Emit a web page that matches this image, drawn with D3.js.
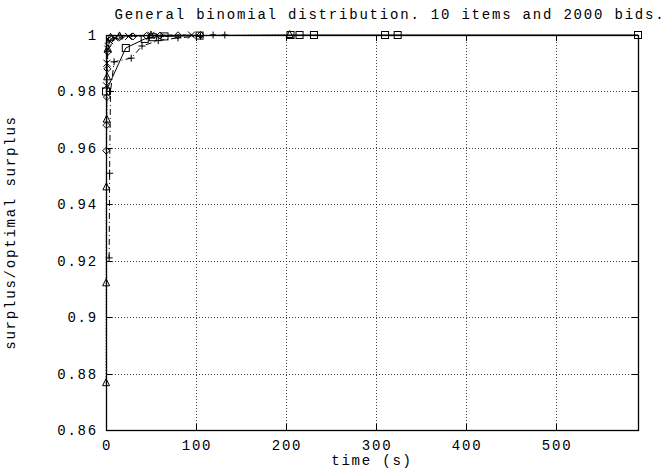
<!DOCTYPE html>
<html lang="en">
<head>
    <meta charset="UTF-8">
    <title>General binomial distribution</title>
    <script src="https://d3js.org/d3.v7.min.js"></script>
    <style>
        body { margin: 0; background: #fff; }
        text { font-family: "Liberation Mono", "DejaVu Sans Mono", monospace; fill: #000; letter-spacing: 1.8px; }
    </style>
</head>
<body>
</body>
<script>
    const WIDTH = 672, HEIGHT = 476;
    const margin = {left: 106, right: 34, top: 35, bottom: 46};

    const titleText = "General binomial distribution. 10 items and 2000 bids.";
    const xLabel = "time (s)";
    const yLabel = "surplus/optimal surplus";
    const xTicks = [0, 100, 200, 300, 400, 500];
    const yTicks = [0.86, 0.88, 0.9, 0.92, 0.94, 0.96, 0.98, 1];

    // [time, surplus ratio] per run
    const diamondRun = [[0.3, 0.959], [0.6, 0.968], [1, 0.978], [1.5, 0.988], [2, 0.994], [3, 0.997],
        [6, 0.9985], [15, 0.9992], [30, 0.9995], [45, 0.9997], [60, 0.9998], [80, 0.9999], [105, 1]];
    const plusRun = [[3.5, 0.921], [4, 0.951], [5, 0.98], [9, 0.9905], [28, 0.9918], [40, 0.9961],
        [58, 0.998], [80, 0.999], [105, 0.9996], [119, 1], [132, 1]];
    const squareRun = [[0, 0.98], [22, 0.9954], [43, 0.9986], [52, 0.9992], [65, 0.9995], [104, 0.9998],
        [205, 1], [215, 1], [231, 1], [310, 1], [324, 1], [591, 1]];
    const crossRun = [[0.5, 0.982], [1, 0.99], [2, 0.995], [4, 0.998], [10, 0.999], [25, 0.9995],
        [50, 0.9999], [95, 1]];
    const triangleRun = [[0.1, 0.8766], [0.2, 0.912], [0.4, 0.946], [0.8, 0.97], [1.2, 0.985],
        [2, 0.995], [5, 0.999], [15, 0.9995], [50, 0.9998], [204, 1]];

    const runs = [
        {data: diamondRun, mark: "diamond", dash: "2,2"},
        {data: plusRun, mark: "plus", dash: "6,3,1,3"},
        {data: squareRun, mark: "square", dash: null},
        {data: crossRun, mark: "cross", dash: "4,3"},
        {data: triangleRun, mark: "triangle", dash: "1,2"}
    ];

    const svg = d3.select("body").append("svg").attr("width", WIDTH).attr("height", HEIGHT);
    svg.append("rect").attr("width", WIDTH).attr("height", HEIGHT).attr("fill", "#fff");

    const x = d3.scaleLinear().domain([0, 591]).range([margin.left, WIDTH - margin.right]);
    const y = d3.scaleLinear().domain([0.86, 1]).range([HEIGHT - margin.bottom, margin.top]);
    const x0 = margin.left, x1 = WIDTH - margin.right, y0 = HEIGHT - margin.bottom, y1 = margin.top;

    // grid
    const grid = svg.append("g").attr("stroke", "#000").attr("stroke-width", 1).attr("stroke-dasharray", "1,2");
    xTicks.filter(t => t > 0).forEach(t => {
        grid.append("line").attr("x1", Math.round(x(t)) + 0.5).attr("x2", Math.round(x(t)) + 0.5)
            .attr("y1", y0).attr("y2", y1).attr("opacity", 0.75);
    });
    yTicks.filter(t => t > 0.86 && t < 1).forEach(t => {
        grid.append("line").attr("y1", Math.round(y(t)) + 0.5).attr("y2", Math.round(y(t)) + 0.5)
            .attr("x1", x0).attr("x2", x1).attr("opacity", 0.75);
    });

    // ticks, inward with mirrors
    const tk = svg.append("g").attr("stroke", "#000").attr("stroke-width", 1);
    xTicks.forEach(t => {
        const px = Math.round(x(t)) + 0.5;
        tk.append("line").attr("x1", px).attr("x2", px).attr("y1", y0).attr("y2", y0 - 6);
        tk.append("line").attr("x1", px).attr("x2", px).attr("y1", y1).attr("y2", y1 + 6);
    });
    yTicks.forEach(t => {
        const py = Math.round(y(t)) + 0.5;
        tk.append("line").attr("y1", py).attr("y2", py).attr("x1", x0).attr("x2", x0 + 6);
        tk.append("line").attr("y1", py).attr("y2", py).attr("x1", x1).attr("x2", x1 - 6);
    });

    // curves
    const clip = svg.append("clipPath").attr("id", "plot");
    clip.append("rect").attr("x", x0 - 6).attr("y", y1 - 6).attr("width", x1 - x0 + 12).attr("height", y0 - y1 + 12);
    const plot = svg.append("g").attr("clip-path", "url(#plot)");
    const line = d3.line().x(d => x(d[0])).y(d => y(d[1]));

    function drawMark(g, kind, px, py) {
        const s = 3.5;
        if (kind === "square") {
            g.append("rect").attr("x", px - s).attr("y", py - s).attr("width", 2 * s).attr("height", 2 * s);
        } else if (kind === "diamond") {
            g.append("path").attr("d", `M${px},${py - s}L${px + s},${py}L${px},${py + s}L${px - s},${py}Z`);
        } else if (kind === "triangle") {
            g.append("path").attr("d", `M${px},${py - s - 1}L${px + s},${py + s - 1}L${px - s},${py + s - 1}Z`);
        } else if (kind === "plus") {
            g.append("path").attr("d", `M${px - s},${py}H${px + s}M${px},${py - s}V${py + s}`);
        } else {
            g.append("path").attr("d", `M${px - s},${py - s}L${px + s},${py + s}M${px - s},${py + s}L${px + s},${py - s}`);
        }
    }

    runs.forEach(r => {
        plot.append("path").datum(r.data).attr("d", line).attr("fill", "none")
            .attr("stroke", "#000").attr("stroke-width", 1)
            .attr("stroke-dasharray", r.dash);
        const mg = plot.append("g").attr("fill", "none").attr("stroke", "#000").attr("stroke-width", 1);
        r.data.forEach(d => drawMark(mg, r.mark, x(d[0]), y(d[1])));
    });

    // border
    svg.append("rect").attr("x", x0 + 0.5).attr("y", y1 + 0.5).attr("width", x1 - x0).attr("height", y0 - y1)
        .attr("fill", "none").attr("stroke", "#000").attr("stroke-width", 1.3);

    // tick labels
    const fs = 14;
    xTicks.forEach(t => {
        svg.append("text").attr("x", x(t) + 1).attr("y", y0 + 20).attr("text-anchor", "middle")
            .attr("font-size", fs).text(t);
    });
    yTicks.forEach(t => {
        svg.append("text").attr("x", x0 - 8).attr("y", y(t) + 5).attr("text-anchor", "end")
            .attr("font-size", fs).text(t === 1 ? "1" : t === 0.9 ? "0.9" : t.toFixed(2));
    });

    svg.append("text").attr("x", 390).attr("y", 19).attr("text-anchor", "middle").attr("font-size", fs).text(titleText);
    svg.append("text").attr("x", x((0 + 591) / 2)).attr("y", y0 + 35).attr("text-anchor", "middle").attr("font-size", fs).text(xLabel);
    svg.append("text").attr("transform", `translate(15,${(y0 + y1) / 2}) rotate(-90)`)
        .attr("text-anchor", "middle").attr("font-size", fs).text(yLabel);
</script>
</html>
